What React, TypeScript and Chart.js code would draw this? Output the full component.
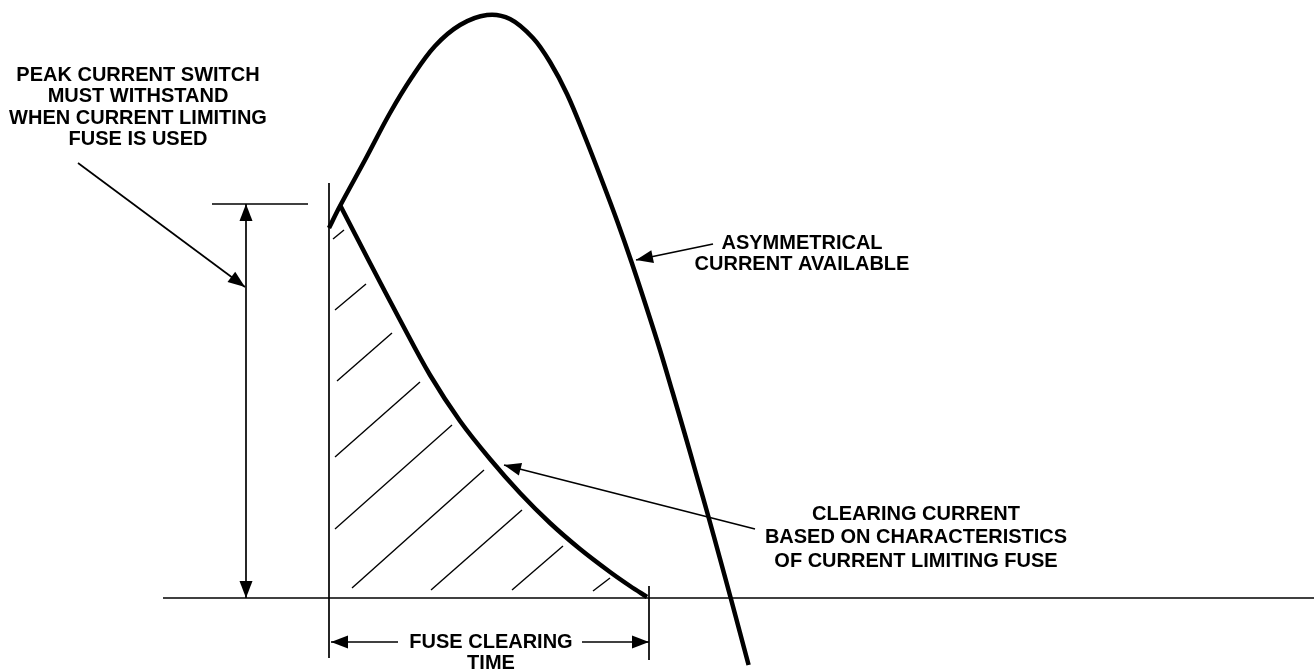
import React, { useEffect, useRef } from "react";
import { Chart, registerables } from "chart.js";

Chart.register(...registerables);

// Data units: x = time (0 = fault start), y = current (0 = baseline)
const asymX = [0, 11, 36, 61, 83, 106, 131, 158, 181, 204, 221, 238, 256, 273.5, 288.5, 302.5, 317, 331, 343.5, 355.5, 367.5, 379.5, 390.8, 401.7, 410.8, 419.6];
const asymY = [370, 392, 438, 485, 521, 552, 573, 583, 579, 560, 536, 504, 461, 416, 376, 336, 292, 248, 206, 165, 123, 81, 40, 0, -34, -67];

const clearX = [11, 41, 71, 101, 131, 161, 191, 221, 251, 281, 301, 318];
const clearY = [393, 335, 278, 223, 177, 139, 105, 75, 49, 26, 12, 1];

// hatch segments [x1, y1, x2, y2]
const hatchX1 = [4, 6, 8, 6, 6, 23, 102, 183, 264];
const hatchY1 = [359, 288, 217, 141, 69, 10, 8, 8, 7];
const hatchX2 = [15, 37, 63, 91, 123, 155, 193, 234, 281];
const hatchY2 = [368, 314, 265, 216, 173, 128, 88, 52, 20];

const baselineX = [-166, 985];
const faultLineY = [415, -60];
const clearTickX = 320;
const clearTickY = [12, -62];
const peakLevel = 394;
const peakArrowX = -83;
const peakCapX = [-117, -21];
const fuseArrowY = -44;
const fuseLeftX = [69, 2];
const fuseRightX = [253, 320];

const peakPointer = [[-251, 435], [-84, 311]];
const asymPointer = [[384, 354], [307, 338]];
const clearPointer = [[426, 69], [175, 133]];

const peakLabel = ["PEAK CURRENT SWITCH", "MUST WITHSTAND", "WHEN CURRENT LIMITING", "FUSE IS USED"];
const asymLabel = ["ASYMMETRICAL", "CURRENT AVAILABLE"];
const clearLabel = ["CLEARING CURRENT", "BASED ON CHARACTERISTICS", "OF CURRENT LIMITING FUSE"];
const fuseLabel = ["FUSE CLEARING", "TIME"];

const labels = [
  { lines: peakLabel, x: -191, y: 523, lh: 21.6 },
  { lines: asymLabel, x: 473, y: 355, lh: 21 },
  { lines: clearLabel, x: 587, y: 84, lh: 23.5 },
  { lines: fuseLabel, x: 162, y: -44, lh: 21 },
];

const FONT = 'bold 20px "Liberation Sans", Arial, Helvetica, sans-serif';

function seg(pts: number[][], width: number, extra: any = {}) {
  return {
    data: pts.map(([x, y]) => ({ x, y })),
    showLine: true,
    borderColor: "#000",
    borderWidth: width,
    pointRadius: 0,
    tension: 0,
    fill: false,
    borderCapStyle: "butt",
    ...extra,
  };
}

const arrowPlugin = {
  id: "arrowsAndText",
  afterDatasetsDraw(chart: any) {
    const ctx = chart.ctx;
    chart.data.datasets.forEach((ds: any, i: number) => {
      const meta = chart.getDatasetMeta(i);
      const pts = meta.data;
      if (!pts || pts.length < 2) return;
      const drawHead = (tip: any, from: any) => {
        const ang = Math.atan2(tip.y - from.y, tip.x - from.x);
        const L = 17, W = 6.5;
        ctx.save();
        ctx.translate(tip.x, tip.y);
        ctx.rotate(ang);
        ctx.beginPath();
        ctx.moveTo(0, 0);
        ctx.lineTo(-L, -W);
        ctx.lineTo(-L, W);
        ctx.closePath();
        ctx.fillStyle = "#000";
        ctx.fill();
        ctx.restore();
      };
      if (ds.arrowEnd) drawHead(pts[pts.length - 1], pts[pts.length - 2]);
      if (ds.arrowStart) drawHead(pts[0], pts[1]);
    });
    const xs = chart.scales.x, ys = chart.scales.y;
    ctx.save();
    ctx.font = FONT;
    ctx.fillStyle = "#000";
    ctx.textAlign = "center";
    ctx.textBaseline = "middle";
    labels.forEach((lb) => {
      const px = xs.getPixelForValue(lb.x);
      const py = ys.getPixelForValue(lb.y);
      lb.lines.forEach((t, k) => ctx.fillText(t, px, py + k * lb.lh));
    });
    ctx.restore();
  },
};

export default function App() {
  const ref = useRef<HTMLCanvasElement | null>(null);
  useEffect(() => {
    if (!ref.current) return;
    const datasets: any[] = [];
    datasets.push(seg(asymX.map((x, i) => [x, asymY[i]]), 4.5, { tension: 0.35, borderJoinStyle: "round" }));
    datasets.push(seg(clearX.map((x, i) => [x, clearY[i]]), 4.5, { tension: 0.35, borderJoinStyle: "round" }));
    hatchX1.forEach((x, i) => datasets.push(seg([[x, hatchY1[i]], [hatchX2[i], hatchY2[i]]], 1.4)));
    datasets.push(seg([[baselineX[0], 0], [baselineX[1], 0]], 1.7));
    datasets.push(seg([[0, faultLineY[0]], [0, faultLineY[1]]], 1.7));
    datasets.push(seg([[clearTickX, clearTickY[0]], [clearTickX, clearTickY[1]]], 1.7));
    datasets.push(seg([[peakArrowX, 0], [peakArrowX, peakLevel]], 1.7, { arrowStart: true, arrowEnd: true }));
    datasets.push(seg([[peakCapX[0], peakLevel], [peakCapX[1], peakLevel]], 1.7));
    datasets.push(seg([[fuseLeftX[0], fuseArrowY], [fuseLeftX[1], fuseArrowY]], 1.7, { arrowEnd: true }));
    datasets.push(seg([[fuseRightX[0], fuseArrowY], [fuseRightX[1], fuseArrowY]], 1.7, { arrowEnd: true }));
    datasets.push(seg(peakPointer, 1.7, { arrowEnd: true }));
    datasets.push(seg(asymPointer, 1.7, { arrowEnd: true }));
    datasets.push(seg(clearPointer, 1.7, { arrowEnd: true }));

    const chart = new Chart(ref.current, {
      type: "scatter",
      data: { datasets },
      options: {
        animation: false,
        responsive: false,
        maintainAspectRatio: false,
        layout: { padding: 0 },
        plugins: { legend: { display: false }, tooltip: { enabled: false } },
        scales: {
          x: { type: "linear", min: -329, max: 985, display: false },
          y: { type: "linear", min: -74, max: 598, display: false },
        },
      },
      plugins: [arrowPlugin],
    } as any);
    return () => chart.destroy();
  }, []);
  return (
    <div style={{ position: "fixed", left: 0, top: 0, width: 1314, height: 672, background: "#fff" }}>
      <canvas ref={ref} width={1314} height={672} style={{ display: "block" }} />
    </div>
  );
}
